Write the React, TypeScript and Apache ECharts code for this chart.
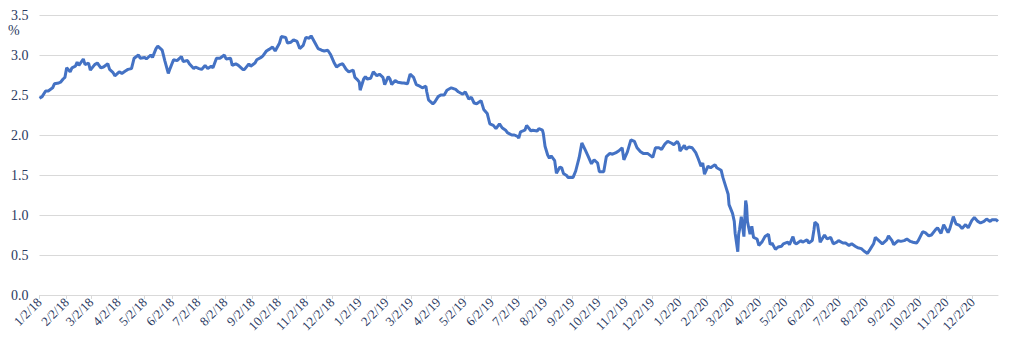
import React, { useEffect, useRef } from "react";
import * as echarts from "echarts";

const dates2018 = [
  "01-02","01-05","01-09","01-12","01-17","01-19","01-24","01-26","01-29","01-31",
  "02-02","02-06","02-08","02-12","02-14","02-16","02-21","02-23","02-27",
  "03-01","03-06","03-09","03-13","03-16","03-21","03-23","03-27","03-29",
  "04-03","04-06","04-10","04-13","04-17","04-20","04-25","04-27",
  "05-02","05-04","05-09","05-11","05-15","05-17","05-22","05-25","05-29","05-31",
  "06-04","06-08","06-13","06-15","06-20","06-22","06-27","06-29",
  "07-03","07-06","07-10","07-13","07-17","07-19","07-23","07-27",
  "08-01","08-03","08-08","08-10","08-14","08-17","08-22","08-24","08-29","08-31",
  "09-05","09-07","09-12","09-14","09-18","09-21","09-25","09-28",
  "10-03","10-05","10-10","10-12","10-16","10-19","10-23","10-26","10-30",
  "11-02","11-06","11-08","11-13","11-16","11-20","11-23","11-27","11-30",
  "12-04","12-07","12-11","12-14","12-18","12-21","12-26","12-28","12-31",
];
const values2018 = [
  2.46,2.48,2.55,2.55,2.59,2.64,2.65,2.66,2.70,2.72,
  2.84,2.79,2.84,2.86,2.91,2.87,2.95,2.88,2.90,
  2.81,2.88,2.90,2.84,2.85,2.89,2.82,2.78,2.74,
  2.79,2.77,2.80,2.82,2.83,2.96,3.00,2.96,
  2.97,2.95,3.00,2.97,3.08,3.11,3.06,2.93,2.77,2.83,
  2.94,2.93,2.98,2.92,2.93,2.89,2.83,2.85,
  2.83,2.82,2.87,2.83,2.86,2.84,2.96,2.96,
  3.00,2.95,2.96,2.87,2.89,2.87,2.82,2.82,2.89,2.86,
  2.90,2.94,2.97,2.99,3.05,3.07,3.10,3.05,
  3.15,3.23,3.22,3.15,3.16,3.19,3.17,3.08,3.12,
  3.22,3.21,3.24,3.14,3.08,3.06,3.05,3.06,3.01,
  2.91,2.85,2.88,2.89,2.82,2.79,2.81,2.72,2.69,
];

const dates2019 = [
  "01-02","01-03","01-07","01-09","01-11","01-15","01-18","01-22","01-25","01-29","01-31",
  "02-04","02-06","02-08","02-12","02-15","02-20","02-22","02-26",
  "03-01","03-05","03-08","03-12","03-15","03-19","03-20","03-22","03-27","03-29",
  "04-02","04-05","04-09","04-12","04-17","04-22","04-25","04-30",
  "05-03","05-07","05-10","05-13","05-16","05-21","05-24","05-28","05-31",
  "06-04","06-07","06-11","06-14","06-18","06-20","06-25","06-28",
  "07-02","07-03","07-05","07-10","07-12","07-17","07-19","07-24","07-26","07-30","07-31",
  "08-02","08-05","08-07","08-09","08-13","08-15","08-19","08-21","08-23","08-27","08-28",
  "09-03","09-06","09-10","09-13","09-17","09-20","09-24","09-27",
  "10-01","10-03","10-08","10-11","10-15","10-18","10-22","10-25","10-29","10-31",
  "11-04","11-08","11-12","11-15","11-19","11-22","11-27",
  "12-03","12-06","12-10","12-13","12-17","12-20","12-24","12-27","12-31",
];
const values2019 = [
  2.66,2.56,2.70,2.73,2.70,2.71,2.79,2.74,2.76,2.72,2.63,
  2.73,2.70,2.63,2.68,2.66,2.65,2.65,2.64,
  2.76,2.72,2.63,2.61,2.59,2.61,2.54,2.44,2.39,2.41,
  2.48,2.50,2.50,2.56,2.59,2.57,2.54,2.51,
  2.54,2.45,2.47,2.40,2.39,2.43,2.32,2.27,2.14,
  2.12,2.08,2.14,2.09,2.06,2.03,2.00,2.00,
  1.98,1.96,2.04,2.06,2.12,2.05,2.06,2.05,2.08,2.06,2.02,
  1.86,1.75,1.71,1.74,1.68,1.52,1.60,1.59,1.52,1.49,1.47,
  1.47,1.55,1.72,1.90,1.81,1.74,1.64,1.69,
  1.65,1.54,1.54,1.73,1.77,1.76,1.78,1.80,1.84,1.69,
  1.79,1.94,1.92,1.84,1.79,1.77,1.77,
  1.72,1.84,1.84,1.82,1.89,1.92,1.90,1.88,1.92,
];

const dates2020 = [
  "01-02","01-03","01-08","01-10","01-13","01-17","01-21","01-24","01-27","01-29","01-31",
  "02-04","02-07","02-12","02-14","02-19","02-21","02-25","02-27","02-28",
  "03-03","03-05","03-06","03-09","03-10","03-11","03-13","03-16","03-18","03-19","03-20","03-23","03-25","03-27","03-31",
  "04-02","04-06","04-09","04-13","04-15","04-17","04-21","04-24","04-28","04-30",
  "05-05","05-07","05-11","05-13","05-15","05-20","05-22","05-27","05-29",
  "06-02","06-04","06-05","06-08","06-10","06-11","06-16","06-19","06-23","06-26","06-30",
  "07-02","07-07","07-10","07-14","07-17","07-21","07-24","07-28","07-31",
  "08-04","08-07","08-11","08-13","08-17","08-21","08-26","08-28",
  "09-01","09-03","09-08","09-11","09-15","09-18","09-22","09-25","09-29",
  "10-01","10-06","10-09","10-13","10-16","10-21","10-23","10-27","10-30",
  "11-04","11-06","11-10","11-13","11-17","11-20","11-24","11-27",
  "12-01","12-04","12-08","12-11","12-15","12-18","12-22","12-24","12-29","12-31",
];
const values2020 = [
  1.88,1.80,1.87,1.82,1.85,1.84,1.78,1.70,1.61,1.65,1.51,
  1.61,1.59,1.63,1.59,1.56,1.47,1.33,1.26,1.13,
  1.02,0.92,0.77,0.54,0.76,0.82,0.98,0.73,1.18,1.12,0.92,0.76,0.86,0.72,0.70,
  0.62,0.67,0.73,0.76,0.63,0.65,0.57,0.60,0.61,0.64,
  0.66,0.63,0.73,0.65,0.64,0.68,0.66,0.69,0.65,
  0.68,0.82,0.91,0.88,0.74,0.66,0.75,0.70,0.72,0.64,0.66,
  0.68,0.65,0.65,0.62,0.64,0.61,0.59,0.58,0.55,
  0.52,0.57,0.64,0.72,0.68,0.64,0.69,0.74,
  0.68,0.63,0.68,0.67,0.68,0.70,0.67,0.66,0.65,
  0.68,0.79,0.78,0.74,0.75,0.82,0.84,0.77,0.88,
  0.78,0.83,0.98,0.89,0.87,0.83,0.88,0.84,
  0.93,0.97,0.92,0.90,0.92,0.95,0.92,0.94,0.94,0.92,
];

const yTicks = [0, 0.5, 1.0, 1.5, 2.0, 2.5, 3.0, 3.5];
const START = "2018-01-02";
const END = "2020-12-31";

const TEXT_COLOR = "#2b3a62";
const FONT = "Liberation Serif";

function buildSeries() {
  const lookup: Record<string, number> = {};
  const add = (year: string, ds: string[], vs: number[]) =>
    ds.forEach((d, i) => (lookup[`${year}-${d}`] = vs[i]));
  add("2018", dates2018, values2018);
  add("2019", dates2019, values2019);
  add("2020", dates2020, values2020);

  const cats: string[] = [];
  const vals: (number | null)[] = [];
  const cur = new Date(START + "T00:00:00Z");
  const end = new Date(END + "T00:00:00Z");
  while (cur <= end) {
    const key = cur.toISOString().slice(0, 10);
    cats.push(key);
    vals.push(key in lookup ? lookup[key] : null);
    cur.setUTCDate(cur.getUTCDate() + 1);
  }
  return { cats, vals };
}

function fmtDate(key: string) {
  const [y, m, d] = key.split("-");
  return `${parseInt(m, 10)}/${parseInt(d, 10)}/${y.slice(2)}`;
}

export default function App() {
  const ref = useRef<HTMLDivElement>(null);
  useEffect(() => {
    if (!ref.current) return;
    const chart = echarts.init(ref.current, undefined, { renderer: "svg" });
    const { cats, vals } = buildSeries();
    const isSecond = (_i: number, v: string) => v.endsWith("-02");
    chart.setOption({
      animation: false,
      backgroundColor: "#ffffff",
      grid: { left: 25, right: 11, top: 7, bottom: 60, containLabel: false },
      graphic: [
        {
          type: "text",
          left: 0,
          top: 15,
          style: { text: "%", fontFamily: FONT, fontSize: 14, fill: TEXT_COLOR },
        },
      ],
      xAxis: {
        type: "category",
        data: cats,
        boundaryGap: false,
        axisLine: { show: true, lineStyle: { color: "#d9d9d9", width: 1 } },
        axisTick: { show: true, interval: isSecond, length: 4, lineStyle: { color: "#d9d9d9" } },
        axisLabel: {
          interval: isSecond,
          rotate: 45,
          margin: 5,
          color: TEXT_COLOR,
          fontFamily: FONT,
          fontSize: 13,
          formatter: (v: string) => fmtDate(v),
        },
        splitLine: { show: false },
      },
      yAxis: {
        type: "value",
        min: yTicks[0],
        max: yTicks[yTicks.length - 1],
        interval: 0.5,
        axisLine: { show: false },
        axisTick: { show: false },
        axisLabel: {
          color: TEXT_COLOR,
          fontFamily: FONT,
          fontSize: 14,
          margin: 11,
          formatter: (v: number) => v.toFixed(1),
        },
        splitLine: { show: true, lineStyle: { color: "#d9d9d9", width: 1 } },
      },
      series: [
        {
          type: "line",
          data: vals,
          connectNulls: true,
          showSymbol: false,
          symbol: "none",
          lineStyle: { color: "#4472c4", width: 3 },
        },
      ],
    });
    return () => chart.dispose();
  }, []);
  return <div ref={ref} style={{ width: 1001, height: 347 }} />;
}
